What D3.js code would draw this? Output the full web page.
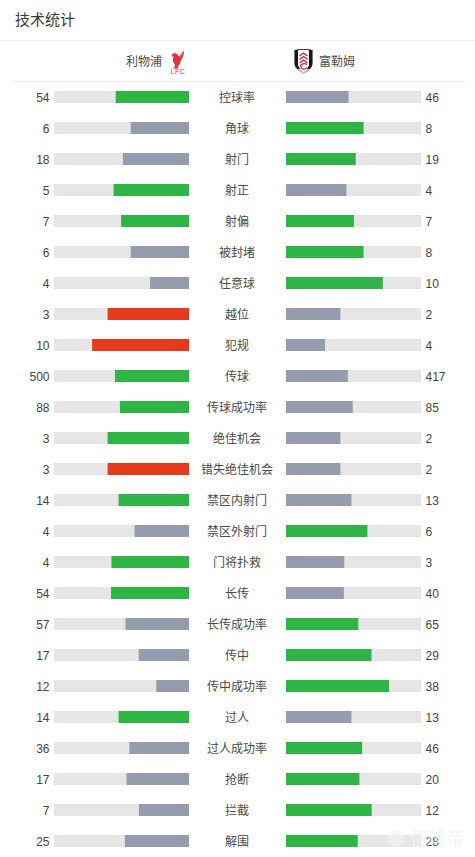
<!DOCTYPE html>
<html><head><meta charset="utf-8">
<script src="https://cdn.jsdelivr.net/npm/d3@7/dist/d3.min.js"></script>
<style>html,body{margin:0;padding:0;background:#fff;overflow:hidden}svg{display:block}</style>
</head><body><div id="c"></div>
<script>
const title = "技术统计";
const homeTeam = "利物浦", awayTeam = "富勒姆";
const categories = ["控球率","角球","射门","射正","射偏","被封堵","任意球","越位","犯规","传球","传球成功率","绝佳机会","错失绝佳机会","禁区内射门","禁区外射门","门将扑救","长传","长传成功率","传中","传中成功率","过人","过人成功率","抢断","拦截","解围"];
const homeValues = [54,6,18,5,7,6,4,3,10,500,88,3,3,14,4,4,54,57,17,12,14,36,17,7,25];
const awayValues = [46,8,19,4,7,8,10,2,4,417,85,2,2,13,6,3,40,65,29,38,13,46,20,12,28];
const negativeStats = ["越位","犯规","错失绝佳机会"];

const W = 475, H = 857;
const font = "'Noto Sans CJK SC','Noto Sans',sans-serif";
const numFont = "'Liberation Sans',Arial,sans-serif";
const svg = d3.select("#c").append("svg").attr("width",W).attr("height",H);
svg.append("rect").attr("width",W).attr("height",H).attr("fill","#fff");

svg.append("text").attr("x",15).attr("y",25).attr("font-family",font).attr("font-size",15).attr("fill","#3a3a3a").text(title);
svg.append("rect").attr("x",0).attr("y",40).attr("width",W).attr("height",1).attr("fill","#f0f0f0");
svg.append("rect").attr("x",10).attr("y",81).attr("width",456).attr("height",1).attr("fill","#eeeeee");

svg.append("text").attr("x",162).attr("y",65.5).attr("text-anchor","end").attr("font-family",font).attr("font-size",12).attr("fill","#4a4a4a").text(homeTeam);
svg.append("text").attr("x",319).attr("y",65.5).attr("font-family",font).attr("font-size",12).attr("fill","#4a4a4a").text(awayTeam);

// Liverpool crest: liver bird above the letters
const lfc = svg.append("g").attr("transform","translate(171,49)").attr("fill","#e5323c");
lfc.append("path").attr("d","M13 0 L12.3 3.5 L10.6 3 L11 5.5 L9.2 5.2 L9.4 8 L7 6.5 L5.5 4.5 L3 4 L1.2 5.5 L0.6 7.5 L2.8 7.6 L1.8 10 L2.2 13 L4 15.5 L3.6 18 L1.8 19.5 L8 19.5 L6.6 17.6 L8.6 15.5 L10 11.5 L12 7.5 L13 3.5Z");
lfc.append("text").attr("x",7).attr("y",25).attr("text-anchor","middle").attr("font-family","'Liberation Sans',sans-serif").attr("font-size",7).attr("letter-spacing",0.5).text("LFC");

// Fulham crest: black-edged shield with red chevrons
const ffc = svg.append("g").attr("transform","translate(294,49)");
ffc.append("path").attr("d","M0.5 1 Q9.5 -1 18.5 1 L18.5 15 Q18 21 9.5 25 Q1 21 0.5 15Z").attr("fill","#bbb");
ffc.append("path").attr("d","M0.5 1 Q9.5 -1 18.5 1 L18.5 15 Q18 18.5 15.5 20 L3.5 20 Q1 18.5 0.5 15Z").attr("fill","#161616");
ffc.append("path").attr("d","M4 1.2 Q9.5 0.4 15 1.2 L15 16.5 Q13.5 20.5 9.5 23.5 Q5.5 20.5 4 16.5Z").attr("fill","#fff");
ffc.append("path").attr("d","M5.5 7 L9.5 4 L13.5 7 M5.5 10.5 L9.5 7.5 L13.5 10.5 M5.5 14 L9.5 11 L13.5 14 M13 15.5 Q9 13.5 6.5 16.5 Q7 20 10 20.2 Q12 20 13 18.5").attr("fill","none").attr("stroke","#cf2130").attr("stroke-width",1.3);

const green="#2fb545", grey="#949cad", red="#e63a1c", track="#e6e6e6", txt="#444";
const rowY = d3.scaleBand().domain(categories).range([81.5,81.5+31*categories.length]).paddingInner(0);
const share = d3.scaleLinear().domain([0,1]).range([0.4,135.4]);
const leftX0=54, leftX1=189, rightX0=286;
const barH=12;

function colour(cat,a,b){
  if(a<b) return grey;
  return negativeStats.includes(cat) ? red : green;
}

const rows = svg.selectAll("g.row").data(categories).join("g").attr("class","row")
  .attr("transform",d=>`translate(0,${rowY(d)})`);
rows.each(function(cat,i){
  const g=d3.select(this), a=homeValues[i], b=awayValues[i], tot=a+b;
  const cy=rowY.bandwidth()/2;
  const top=cy-barH/2;
  g.append("rect").attr("x",leftX0).attr("y",top).attr("width",leftX1-leftX0).attr("height",barH).attr("fill",track);
  g.append("rect").attr("x",rightX0).attr("y",top).attr("width",135).attr("height",barH).attr("fill",track);
  const wa=share(a/tot), wb=share(b/tot);
  g.append("rect").attr("x",leftX1-wa).attr("y",top).attr("width",wa).attr("height",barH).attr("fill",colour(cat,a,b));
  g.append("rect").attr("x",rightX0).attr("y",top).attr("width",wb).attr("height",barH).attr("fill",b<a?grey:green);
  g.append("text").attr("x",49.5).attr("y",cy+4.5).attr("text-anchor","end").attr("font-family",numFont).attr("font-size",12).attr("fill",txt).text(a);
  g.append("text").attr("x",425.5).attr("y",cy+4.5).attr("font-family",numFont).attr("font-size",12).attr("fill",txt).text(b);
  g.append("text").attr("x",237).attr("y",cy+5.4).attr("text-anchor","middle").attr("font-family",font).attr("font-size",12).attr("fill","#4a4a4a").text(cat);
});

// faint watermark
const wm=svg.append("g").attr("opacity",0.7).attr("fill","#f4f4f4");
wm.append("path").attr("d","M396 829 L404 833.5 L404 842.5 L396 847 L388 842.5 L388 833.5Z");
wm.append("text").attr("x",410).attr("y",845).attr("font-family",font).attr("font-size",18).attr("font-weight","bold").text("懂球帝");
</script></body></html>
